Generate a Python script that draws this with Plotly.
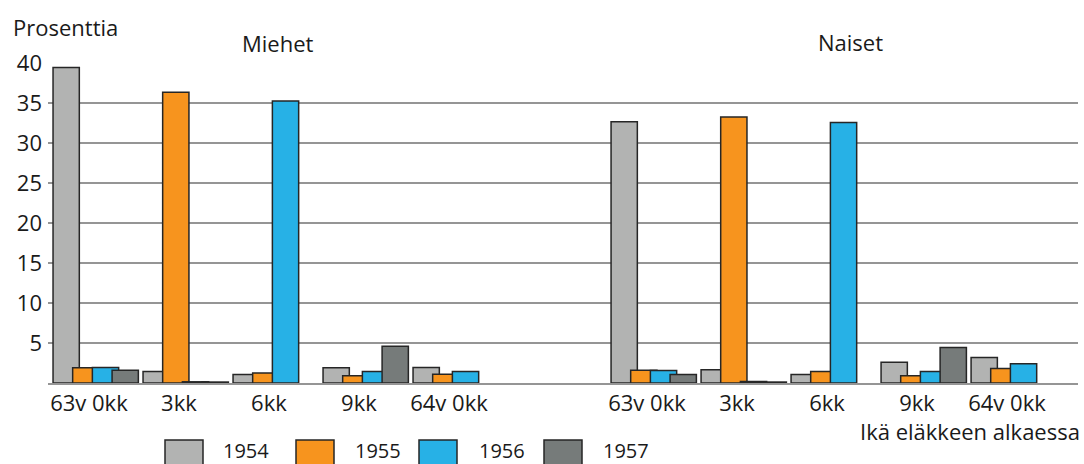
import plotly.graph_objects as go

# ---------------- data ----------------
categories = ["63v 0kk", "3kk", "6kk", "9kk", "64v 0kk"]
panels = ["Miehet", "Naiset"]
years = ["1954", "1955", "1956", "1957"]

miehet_1954 = [39.5, 1.45, 1.05, 1.9, 1.95]
miehet_1955 = [1.9, 36.4, 1.25, 0.9, 1.1]
miehet_1956 = [1.95, 0.15, 35.3, 1.45, 1.45]
miehet_1957 = [1.6, 0.12, None, 4.6, None]

naiset_1954 = [32.7, 1.65, 1.05, 2.6, 3.2]
naiset_1955 = [1.6, 33.3, 1.45, 0.9, 1.8]
naiset_1956 = [1.55, 0.2, 32.6, 1.45, 2.4]
naiset_1957 = [1.05, 0.12, None, 4.45, None]

y_ticks = [5, 10, 15, 20, 25, 30, 35, 40]

# ---------------- style ----------------
colors = ["#B2B3B2", "#F7941E", "#27B1E6", "#767B7A"]
outline = "#262626"
grid = "#959595"
text_col = "#1A1A1A"
FONT = "Open Sans"

W, H = 1084, 464
ML, MR, MT, MB = 48, 6, 63, 81
PANEL_GAP = 6.2          # start slot of second panel
BAR_W = 0.292
BAR_OFF = [-0.474, -0.256, -0.037, 0.182]
TICK_SHIFT = -0.075

n = len(categories)
slots = list(range(n)) + [PANEL_GAP + i for i in range(n)]

series = [
    miehet_1954 + naiset_1954,
    miehet_1955 + naiset_1955,
    miehet_1956 + naiset_1956,
    miehet_1957 + naiset_1957,
]

fig = go.Figure()
for k, (yr, vals) in enumerate(zip(years, series)):
    fig.add_trace(go.Bar(
        x=slots, y=vals, name=yr,
        width=BAR_W, offset=BAR_OFF[k],
        marker=dict(color=colors[k], line=dict(color=outline, width=1.5)),
        showlegend=False,
    ))

x_range = [-0.530, 10.914]
y_range = [0, 40.05]

fig.update_layout(
    width=W, height=H,
    margin=dict(l=ML, r=MR, t=MT, b=MB),
    barmode="overlay",
    plot_bgcolor="white", paper_bgcolor="white",
    font=dict(family=FONT, color=text_col, size=22),
    xaxis=dict(
        range=x_range, tickmode="array",
        tickvals=[s + TICK_SHIFT for s in slots],
        ticktext=categories + categories,
        tickfont=dict(size=22, family=FONT, color=text_col),
        showgrid=False, zeroline=False,
        showline=True, linecolor=grid, linewidth=1.5,
        ticks="", ticklen=0,
    ),
    yaxis=dict(
        range=y_range, tickmode="array", tickvals=y_ticks,
        tickfont=dict(size=22, family=FONT, color=text_col),
        showgrid=True, gridcolor=grid, gridwidth=1.5,
        zeroline=False, showline=False, ticks="", ticklabelstandoff=5,
    ),
)

pw = W - ML - MR
ph = H - MT - MB

def px(xp):
    return (xp - ML) / pw

def py(yp):
    return (H - MB - yp) / ph

annotations = [
    dict(text="Prosenttia", x=px(11), y=py(27), xanchor="left", yanchor="middle",
         font=dict(size=22)),
    dict(text=panels[0], x=px(278), y=py(43), xanchor="center", yanchor="middle",
         font=dict(size=22)),
    dict(text=panels[1], x=px(850), y=py(42), xanchor="center", yanchor="middle",
         font=dict(size=22)),
    dict(text="Ikä eläkkeen alkaessa", x=px(1082), y=py(431), xanchor="right",
         yanchor="middle", font=dict(size=22)),
]

shapes = []
leg_box_x = [165, 296, 419, 544]
leg_txt_x = [221, 353, 477, 601]
for k, yr in enumerate(years):
    shapes.append(dict(type="rect", xref="paper", yref="paper",
                       x0=px(leg_box_x[k]), x1=px(leg_box_x[k] + 38),
                       y0=py(440), y1=py(466),
                       fillcolor=colors[k], line=dict(color=outline, width=1.5)))
    annotations.append(dict(text=yr, x=px(leg_txt_x[k]), y=py(450), xanchor="left",
                            yanchor="middle", font=dict(size=20)))

for a in annotations:
    a.update(xref="paper", yref="paper", showarrow=False)

fig.update_layout(annotations=annotations, shapes=shapes)

fig.write_html("out.html", config={"displayModeBar": False},
               post_script="document.body.style.margin='0px';")
